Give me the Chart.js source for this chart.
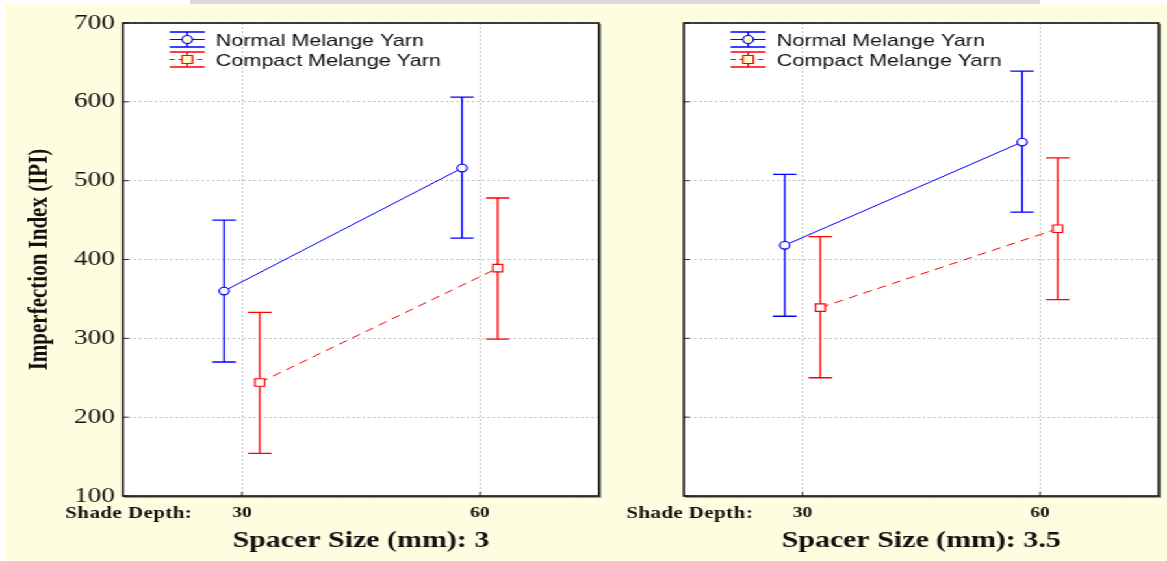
<!DOCTYPE html>
<html>
<head>
<meta charset="utf-8">
<script src="https://cdn.jsdelivr.net/npm/chart.js@4.4.0/dist/chart.umd.min.js"></script>
<style>
  html, body { margin: 0; padding: 0; background: #fff; }
  body { width: 1167px; height: 561px; overflow: hidden; position: relative; }
  #paper { position: absolute; left: 5px; top: 4px; right: 0; bottom: 0; background: #fffde0; }
  #strip { position: absolute; left: 190px; top: 0; width: 850px; height: 4px; background: #d9d9d9; }
  /* the original figure is stretched sideways, so draw narrow and widen */
  #stage { position: absolute; left: 0; top: 0; width: 898px; height: 561px;
           transform: scaleX(1.2996); transform-origin: 0 0; }
  #stage canvas { position: absolute; top: 0; }
  #left { left: 0; }
  #right { left: 470px; }
</style>
</head>
<body>
<div id="paper"></div>
<div id="strip"></div>
<div id="stage">
  <canvas id="left" width="470" height="561"></canvas>
  <canvas id="right" width="428" height="561"></canvas>
</div>
<script>
// data
const shadeDepth = ["30", "60"];
const yTicks = [100, 200, 300, 400, 500, 600, 700];

// spacer 3 mm
const normal3 = [360, 516];
const normal3Low = [270, 427];
const normal3High = [450, 606];
const compact3 = [244, 389];
const compact3Low = [154, 299];
const compact3High = [333, 478];

// spacer 3.5 mm
const normal35 = [418, 549];
const normal35Low = [328, 460];
const normal35High = [508, 639];
const compact35 = [339, 439];
const compact35Low = [250, 349];
const compact35High = [429, 529];

const BLUE = "#0000ff";
const RED = "#ff0000";
const DODGE = 0.15;

/* ==========================
   PLUGINS
========================== */
const plotFrame = {
    id: "plotFrame",
    beforeDraw(chart) {
        const { ctx, chartArea: a } = chart;
        ctx.save();
        ctx.fillStyle = "#fff";
        ctx.fillRect(a.left, a.top, a.right - a.left, a.bottom - a.top);
        ctx.restore();
    },
    afterDraw(chart) {
        const { ctx, chartArea: a, scales: { x, y } } = chart;
        ctx.save();
        // small inward ticks
        ctx.strokeStyle = "#333";
        ctx.lineWidth = 1;
        ctx.beginPath();
        y.ticks.forEach(t => {
            const py = y.getPixelForValue(t.value);
            ctx.moveTo(a.left, py); ctx.lineTo(a.left + 4.5, py);
        });
        x.ticks.forEach(t => {
            const px = x.getPixelForValue(t.value);
            ctx.moveTo(px, a.bottom); ctx.lineTo(px, a.bottom - 4);
        });
        ctx.stroke();
        // shadow + frame
        ctx.strokeStyle = "#777";
        ctx.lineWidth = 1.2;
        ctx.beginPath();
        ctx.moveTo(a.right + 1.2, a.top + 1); ctx.lineTo(a.right + 1.2, a.bottom + 1.2); ctx.lineTo(a.left + 1, a.bottom + 1.2);
        ctx.stroke();
        ctx.strokeStyle = "#111";
        ctx.lineWidth = 1.6;
        ctx.strokeRect(a.left, a.top, a.right - a.left, a.bottom - a.top);

        // "Shade Depth:" row label
        ctx.fillStyle = "#111";
        ctx.font = "bold 16px 'Liberation Serif'";
        ctx.letterSpacing = "0.4px";
        ctx.textAlign = "left";
        ctx.textBaseline = "middle";
        ctx.fillText("Shade Depth:", a.left - 44.3, 514);
        ctx.restore();
    }
};

const errorBars = {
    id: "errorBars",
    beforeDatasetsDraw(chart) {
        const { ctx, scales: { x, y } } = chart;
        chart.data.datasets.forEach(ds => {
            ctx.save();
            ctx.strokeStyle = ds.borderColor;
            ctx.lineWidth = 1.3;
            ctx.beginPath();
            ds.data.forEach((p, i) => {
                const px = x.getPixelForValue(p.x);
                const top = y.getPixelForValue(ds.high[i]);
                const bot = y.getPixelForValue(ds.low[i]);
                ctx.moveTo(px, top); ctx.lineTo(px, bot);
                ctx.moveTo(px - 9, top); ctx.lineTo(px + 9, top);
                ctx.moveTo(px - 9, bot); ctx.lineTo(px + 9, bot);
            });
            ctx.stroke();
            ctx.restore();
        });
    }
};

const boxLegend = {
    id: "boxLegend",
    afterDraw(chart) {
        const { ctx, chartArea: a } = chart;
        const x0 = a.left + 36, x1 = a.left + 63, cx = (x0 + x1) / 2;
        chart.data.datasets.forEach((ds, i) => {
            const cy = 39.5 + i * 20;
            ctx.save();
            ctx.strokeStyle = ds.borderColor;
            ctx.lineWidth = 1.3;
            ctx.beginPath();
            ctx.moveTo(x0, cy - 7.5); ctx.lineTo(x1, cy - 7.5);
            ctx.moveTo(x0, cy + 7.5); ctx.lineTo(x1, cy + 7.5);
            ctx.moveTo(cx, cy - 7.5); ctx.lineTo(cx, cy + 7.5);
            ctx.stroke();
            ctx.lineWidth = 1;
            ctx.setLineDash(ds.borderDash.length ? [4, 3] : []);
            ctx.beginPath();
            ctx.moveTo(x0, cy); ctx.lineTo(x1, cy);
            ctx.stroke();
            ctx.setLineDash([]);
            ctx.fillStyle = "#ffffc8";
            ctx.lineWidth = 1.2;
            ctx.beginPath();
            if (ds.pointStyle === "rect") ctx.rect(cx - 4, cy - 4, 8, 8);
            else ctx.arc(cx, cy, 4, 0, Math.PI * 2);
            ctx.fill();
            ctx.stroke();
            ctx.fillStyle = "#111";
            ctx.font = "16.6px 'Liberation Sans'";
            ctx.textAlign = "left";
            ctx.textBaseline = "middle";
            ctx.fillText(ds.label, a.left + 71.5, cy + 2);
            ctx.restore();
        });
    }
};

/* ==========================
   PANEL BUILDER
========================== */
function makeSeries(label, means, low, high, color, shift, dashed) {
    return {
        label,
        data: means.map((v, i) => ({ x: i * 2 + 1 + shift, y: v })),
        low,
        high,
        borderColor: color,
        borderWidth: 1,
        borderDash: dashed ? [7, 5] : [],
        pointStyle: dashed ? "rect" : "circle",
        pointRadius: dashed ? 5.3 : 3.8,
        pointBackgroundColor: "#fff",
        pointBorderColor: color,
        pointBorderWidth: 1.2,
        tension: 0
    };
}

function makePanel(canvasId, spacer, series, opts) {
    const el = document.getElementById(canvasId);
    return new Chart(el.getContext("2d"), {
        type: "line",
        data: { datasets: series },
        options: {
            responsive: false,
            animation: false,
            layout: { padding: { left: 0, top: 23, right: opts.padRight, bottom: 0 } },
            plugins: { legend: { display: false }, tooltip: { enabled: false } },
            scales: {
                x: {
                    type: "linear",
                    min: 0,
                    max: shadeDepth.length * 2,
                    afterBuildTicks: s => { s.ticks = shadeDepth.map((d, i) => ({ value: i * 2 + 1 })); },
                    afterFit: s => { s.height = 65; },
                    ticks: {
                        callback: (v, i) => shadeDepth[i],
                        font: { family: "Liberation Serif", size: 15, weight: "bold" },
                        color: "#111",
                        padding: 8.5,
                        maxRotation: 0
                    },
                    grid: { color: "#c4c4c4", lineWidth: 1, drawTicks: false },
                    border: { display: false, dash: [2, 2] },
                    title: {
                        display: true,
                        text: "Spacer Size (mm): " + spacer,
                        font: { family: "Liberation Serif", size: 23, weight: "bold" },
                        color: "#111",
                        padding: { top: 0, bottom: 5.7 }
                    }
                },
                y: {
                    min: yTicks[0],
                    max: yTicks[yTicks.length - 1],
                    afterBuildTicks: s => { s.ticks = yTicks.map(v => ({ value: v })); },
                    afterFit: s => { s.width = opts.axisWidth; },
                    ticks: {
                        display: opts.showLabels,
                        font: { family: "Liberation Serif", size: 21 },
                        color: "#111",
                        padding: 6
                    },
                    grid: { color: "#c4c4c4", lineWidth: 1, drawTicks: false },
                    border: { display: false, dash: [2, 2] },
                    title: {
                        display: opts.showLabels,
                        text: "Imperfection Index (IPI)",
                        font: { family: "Liberation Serif", size: 21, weight: "bold" },
                        color: "#111",
                        padding: { top: 18, bottom: 0 }
                    }
                }
            }
        },
        plugins: [plotFrame, errorBars, boxLegend]
    });
}

makePanel("left", "3", [
    makeSeries("Normal Melange Yarn", normal3, normal3Low, normal3High, BLUE, -DODGE, false),
    makeSeries("Compact Melange Yarn", compact3, compact3Low, compact3High, RED, DODGE, true)
], { padRight: 9.2, axisWidth: 94.6, showLabels: true });

makePanel("right", "3.5", [
    makeSeries("Normal Melange Yarn", normal35, normal35Low, normal35High, BLUE, -DODGE, false),
    makeSeries("Compact Melange Yarn", compact35, compact35Low, compact35High, RED, DODGE, true)
], { padRight: 5.7, axisWidth: 56.2, showLabels: false });
</script>
</body>
</html>
